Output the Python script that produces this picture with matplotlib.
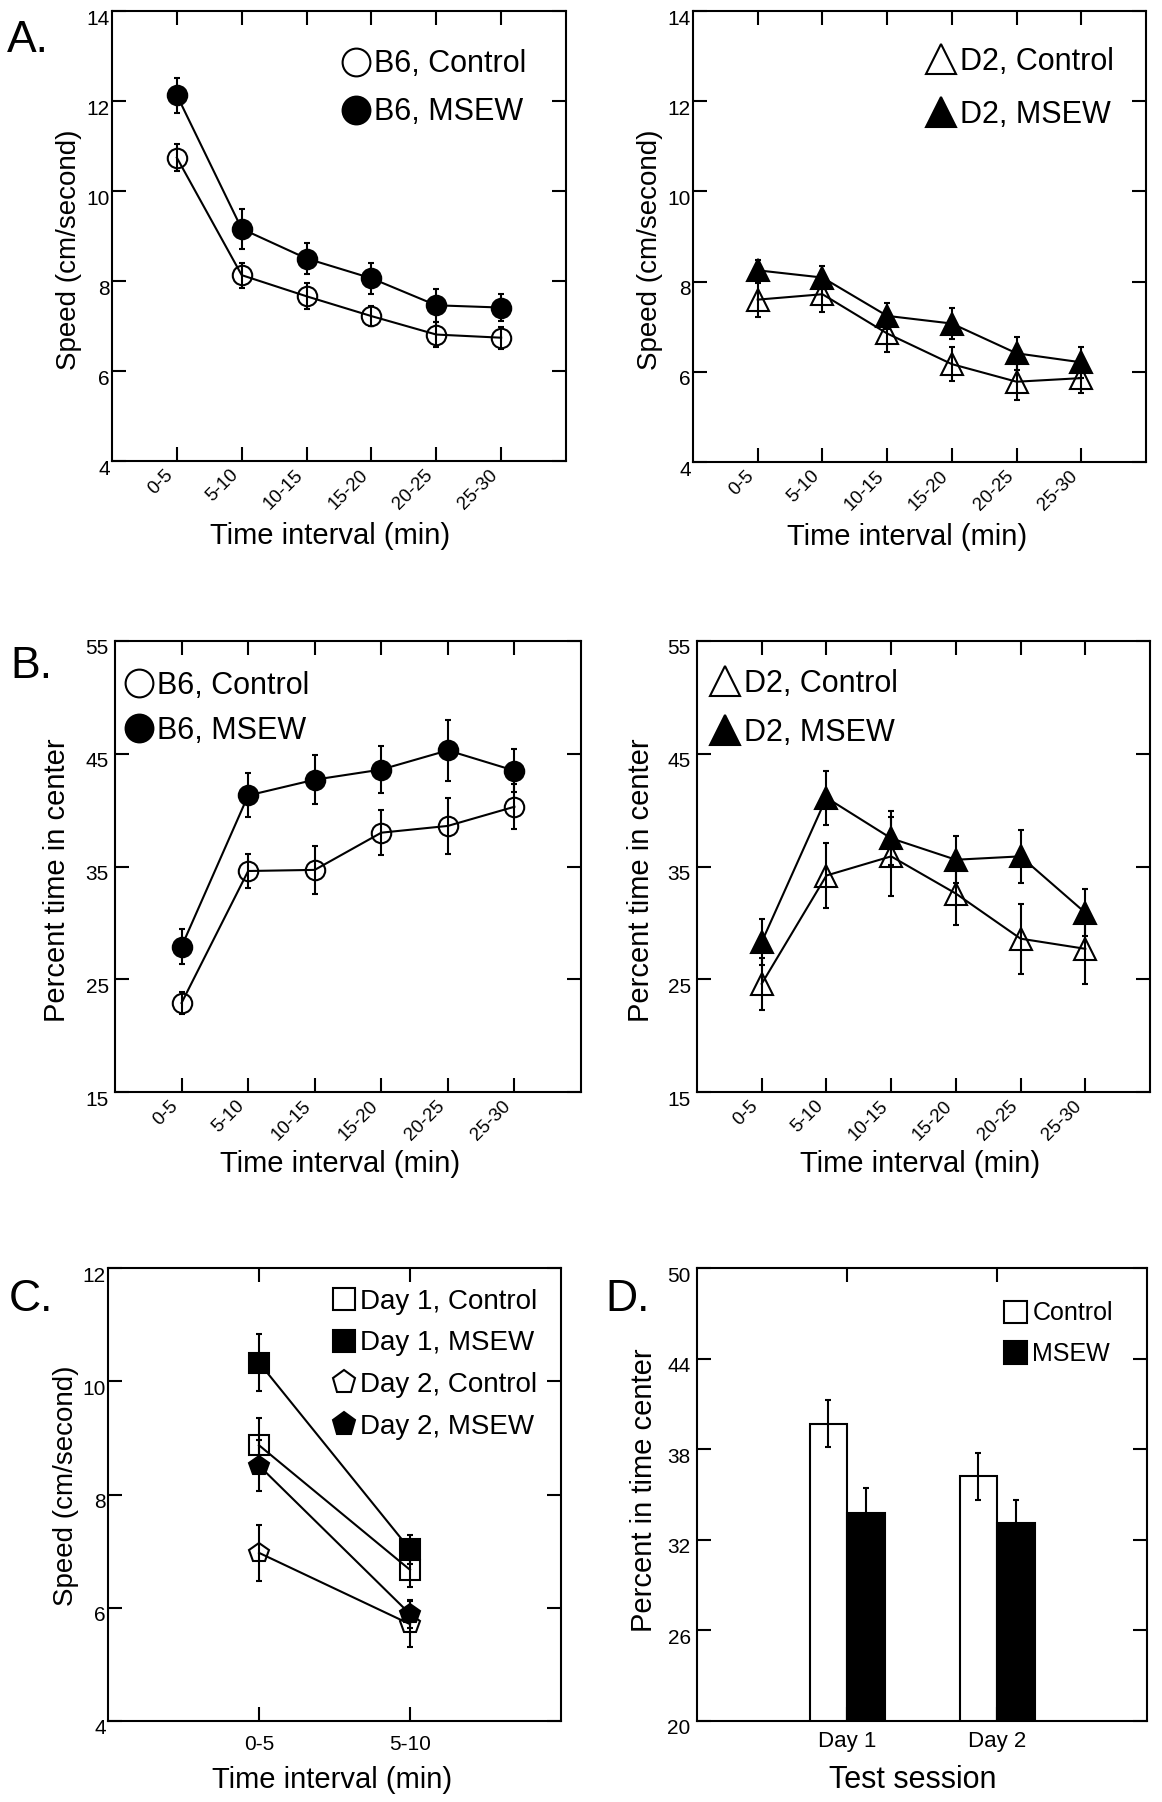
import numpy as np
import matplotlib.pyplot as plt
from matplotlib.lines import Line2D
from matplotlib.patches import Patch
from matplotlib.transforms import ScaledTranslation

plt.rcParams['font.family'] = ['Liberation Sans', 'DejaVu Sans']

# ---- data ----
intervals = ['0-5', '5-10', '10-15', '15-20', '20-25', '25-30']

# A: speed, B6
b6_ctrl_speed = [10.74, 8.13, 7.66, 7.22, 6.81, 6.74]
b6_ctrl_speed_err = [0.30, 0.28, 0.29, 0.22, 0.28, 0.24]
b6_msew_speed = [12.13, 9.16, 8.50, 8.06, 7.46, 7.41]
b6_msew_speed_err = [0.39, 0.45, 0.35, 0.35, 0.36, 0.30]

# A: speed, D2
d2_ctrl_speed = [7.60, 7.72, 6.85, 6.17, 5.78, 5.86]
d2_ctrl_speed_err = [0.38, 0.40, 0.40, 0.38, 0.40, 0.32]
d2_msew_speed = [8.25, 8.09, 7.24, 7.07, 6.41, 6.21]
d2_msew_speed_err = [0.22, 0.25, 0.28, 0.35, 0.37, 0.35]

# B: percent time in center, B6
b6_ctrl_center = [22.9, 34.6, 34.7, 38.0, 38.6, 40.3]
b6_ctrl_center_err = [1.0, 1.55, 2.1, 2.0, 2.5, 2.0]
b6_msew_center = [27.9, 41.3, 42.7, 43.6, 45.3, 43.5]
b6_msew_center_err = [1.55, 1.95, 2.2, 2.1, 2.7, 1.9]

# B: percent time in center, D2
d2_ctrl_center = [24.6, 34.2, 35.9, 32.6, 28.6, 27.7]
d2_ctrl_center_err = [2.3, 2.9, 3.5, 2.8, 3.1, 3.1]
d2_msew_center = [28.3, 41.1, 37.5, 35.6, 35.9, 30.9]
d2_msew_center_err = [2.0, 2.4, 2.4, 2.1, 2.35, 2.1]

# C: speed, first two intervals, two test days
c_intervals = ['0-5', '5-10']
day1_ctrl_speed = [8.87, 6.67]
day1_ctrl_speed_err = [0.48, 0.30]
day1_msew_speed = [10.33, 7.03]
day1_msew_speed_err = [0.51, 0.25]
day2_ctrl_speed = [6.97, 5.71]
day2_ctrl_speed_err = [0.49, 0.41]
day2_msew_speed = [8.51, 5.89]
day2_msew_speed_err = [0.45, 0.24]

# D: percent in time center per session
sessions = ['Day 1', 'Day 2']
ctrl_session = [39.7, 36.2]
ctrl_session_err = [1.55, 1.55]
msew_session = [33.8, 33.1]
msew_session_err = [1.65, 1.55]

# ---- figure ----
W, H = 1162, 1802
fig = plt.figure(figsize=(W / 100, H / 100), dpi=100)


def box(l, r, t, b):
    return [l / W, 1 - b / H, (r - l) / W, (b - t) / H]


def style(ax, ypad=1.5, lab=15):
    for s in ax.spines.values():
        s.set_linewidth(1.5)
    ax.tick_params(direction='in', length=10, width=1.5, top=True, right=True)
    ax.tick_params(axis='y', pad=ypad, labelsize=lab)
    dy = ScaledTranslation(0, -6 / 100, fig.dpi_scale_trans)
    for t in ax.get_yticklabels():
        t.set_transform(t.get_transform() + dy)


def line(ax, x, y, err, marker, filled, ms):
    ax.errorbar(x, y, yerr=err, color='black', lw=1.5, marker=marker, ms=ms,
                mfc='black' if filled else 'none', mec='black', mew=1.5,
                elinewidth=1.5, capsize=2.5, capthick=1.5)


def time_axes(ax, ylim, yticks):
    x = np.arange(1, len(intervals) + 1)
    ax.set_xlim(0, 7)
    ax.set_ylim(*ylim)
    ax.set_yticks(yticks)
    ax.set_xticks(x, intervals, rotation=45, ha='right')
    dx = ScaledTranslation(7 / 100, 0, fig.dpi_scale_trans)
    for t in ax.get_xticklabels():
        t.set_transform(t.get_transform() + dx)
    ax.tick_params(axis='x', pad=4, labelsize=13.5)
    return x


def marker_handle(marker, filled, ms):
    return Line2D([], [], ls='none', marker=marker, ms=ms, mew=1.5, mec='black',
                  mfc='black' if filled else 'white')


# A left
ax = fig.add_axes(box(112, 566, 11, 461))
x = time_axes(ax, (4, 14), [4, 6, 8, 10, 12, 14])
line(ax, x, b6_ctrl_speed, b6_ctrl_speed_err, 'o', False, 14)
line(ax, x, b6_msew_speed, b6_msew_speed_err, 'o', True, 14)
style(ax)
ax.set_ylabel('Speed (cm/second)', fontsize=20, va='center')
ax.yaxis.set_label_coords(-0.095, 0.47)
ax.set_xlabel('Time interval (min)', fontsize=21, va='center')
ax.xaxis.set_label_coords(0.48, -0.167)
ax.legend([marker_handle('o', False, 20), marker_handle('o', True, 20)],
          ['B6, Control', 'B6, MSEW'], loc='upper right', bbox_to_anchor=(0.912, 0.915),
          frameon=False, fontsize=22, handlelength=0.85, handletextpad=0.15,
          labelspacing=0.59, borderpad=0, borderaxespad=0)

# A right
ax = fig.add_axes(box(693, 1146, 11, 462))
x = time_axes(ax, (4, 14), [4, 6, 8, 10, 12, 14])
line(ax, x, d2_ctrl_speed, d2_ctrl_speed_err, '^', False, 16)
line(ax, x, d2_msew_speed, d2_msew_speed_err, '^', True, 16)
style(ax)
ax.set_ylabel('Speed (cm/second)', fontsize=20, va='center')
ax.yaxis.set_label_coords(-0.095, 0.47)
ax.set_xlabel('Time interval (min)', fontsize=21, va='center')
ax.xaxis.set_label_coords(0.472, -0.167)
ax.legend([marker_handle('^', False, 21), marker_handle('^', True, 21)],
          ['D2, Control', 'D2, MSEW'], loc='upper right', bbox_to_anchor=(0.929, 0.921),
          frameon=False, fontsize=22, handlelength=0.92, handletextpad=0.15,
          labelspacing=0.77, borderpad=0, borderaxespad=0)

# B left
ax = fig.add_axes(box(115, 581, 641, 1092))
x = time_axes(ax, (15, 55), [15, 25, 35, 45, 55])
line(ax, x, b6_ctrl_center, b6_ctrl_center_err, 'o', False, 14)
line(ax, x, b6_msew_center, b6_msew_center_err, 'o', True, 14)
style(ax, ypad=4.5)
ax.set_ylabel('Percent time in center', fontsize=21, va='center')
ax.yaxis.set_label_coords(-0.124, 0.47)
ax.set_xlabel('Time interval (min)', fontsize=21, va='center')
ax.xaxis.set_label_coords(0.483, -0.16)
ax.legend([marker_handle('o', False, 20), marker_handle('o', True, 20)],
          ['B6, Control', 'B6, MSEW'], loc='upper left', bbox_to_anchor=(0.024, 0.934),
          frameon=False, fontsize=22, handlelength=0.85, handletextpad=0.15,
          labelspacing=0.49, borderpad=0, borderaxespad=0)

# B right
ax = fig.add_axes(box(697, 1150, 641, 1092))
x = time_axes(ax, (15, 55), [15, 25, 35, 45, 55])
line(ax, x, d2_ctrl_center, d2_ctrl_center_err, '^', False, 16)
line(ax, x, d2_msew_center, d2_msew_center_err, '^', True, 16)
style(ax, ypad=4.5)
ax.set_ylabel('Percent time in center', fontsize=21, va='center')
ax.yaxis.set_label_coords(-0.124, 0.47)
ax.set_xlabel('Time interval (min)', fontsize=21, va='center')
ax.xaxis.set_label_coords(0.492, -0.16)
ax.legend([marker_handle('^', False, 21), marker_handle('^', True, 21)],
          ['D2, Control', 'D2, MSEW'], loc='upper left', bbox_to_anchor=(0.031, 0.939),
          frameon=False, fontsize=22, handlelength=0.92, handletextpad=0.15,
          labelspacing=0.63, borderpad=0, borderaxespad=0)

# C
ax = fig.add_axes(box(108, 561, 1268, 1721))
xc = np.arange(1, len(c_intervals) + 1)
ax.set_xlim(0, 3)
ax.set_ylim(4, 12)
ax.set_yticks([4, 6, 8, 10, 12])
ax.set_xticks(xc, c_intervals)
ax.tick_params(axis='x', pad=10, labelsize=15)
line(ax, xc, day1_ctrl_speed, day1_ctrl_speed_err, 's', False, 15)
line(ax, xc, day1_msew_speed, day1_msew_speed_err, 's', True, 15)
line(ax, xc, day2_ctrl_speed, day2_ctrl_speed_err, 'p', False, 15)
line(ax, xc, day2_msew_speed, day2_msew_speed_err, 'p', True, 15)
style(ax)
ax.set_ylabel('Speed (cm/second)', fontsize=20, va='center')
ax.yaxis.set_label_coords(-0.093, 0.52)
ax.set_xlabel('Time interval (min)', fontsize=21, va='center')
ax.xaxis.set_label_coords(0.494, -0.13)
ax.legend([marker_handle('s', False, 16.5), marker_handle('s', True, 16.5),
           marker_handle('p', False, 17), marker_handle('p', True, 17)],
          ['Day 1, Control', 'Day 1, MSEW', 'Day 2, Control', 'Day 2, MSEW'],
          loc='upper right', bbox_to_anchor=(0.947, 0.954),
          frameon=False, fontsize=20, handlelength=0.83, handletextpad=0.15,
          labelspacing=0.56, borderpad=0, borderaxespad=0)

# D
ax = fig.add_axes(box(697, 1147, 1268, 1721))
xd = np.arange(1, len(sessions) + 1)
err_kw = dict(elinewidth=1.5, capthick=1.5, ecolor='black')
ax.bar(xd - 0.125, ctrl_session, 0.25, color='white', edgecolor='black', lw=1.5,
       yerr=ctrl_session_err, capsize=2.5, error_kw=err_kw)
ax.bar(xd + 0.125, msew_session, 0.25, color='black', edgecolor='black', lw=1.5,
       yerr=msew_session_err, capsize=2.5, error_kw=err_kw)
ax.set_xlim(0, 3)
ax.set_ylim(20, 50)
ax.set_yticks([20, 26, 32, 38, 44, 50])
ax.set_xticks(xd, sessions)
style(ax, ypad=4.5)
ax.tick_params(axis='x', labelsize=16, pad=7)
ax.set_ylabel('Percent in time center', fontsize=21, va='center')
ax.yaxis.set_label_coords(-0.118, 0.51)
ax.set_xlabel('Test session', fontsize=22, va='center')
ax.xaxis.set_label_coords(0.479, -0.13)
ax.legend([Patch(facecolor='white', edgecolor='black', lw=1.5),
           Patch(facecolor='black', edgecolor='black', lw=1.5)],
          ['Control', 'MSEW'], loc='upper right', bbox_to_anchor=(0.924, 0.928),
          frameon=False, fontsize=18, handlelength=0.92, handleheight=1.0,
          handletextpad=0.2, labelspacing=0.64, borderpad=0, borderaxespad=0)

# panel letters
for lx, ly, s in [(7, 52, 'A.'), (10, 678, 'B.'), (9, 1311, 'C.'), (605, 1311, 'D.')]:
    fig.text(lx / W, 1 - ly / H, s, fontsize=32, va='baseline')

fig.savefig('out.png', dpi=100)
